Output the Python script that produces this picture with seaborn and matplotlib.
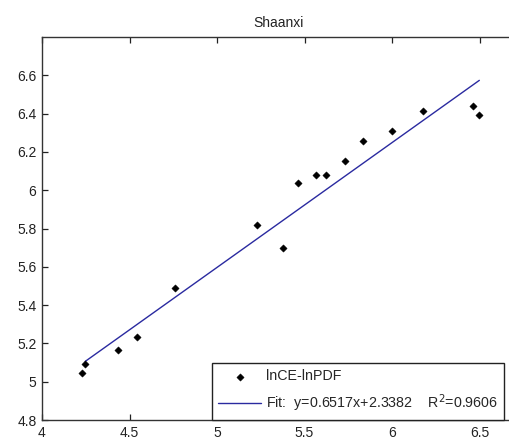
import numpy as np
import pandas as pd
import matplotlib
matplotlib.use("Agg")
import matplotlib.pyplot as plt
import seaborn as sns

# Data
ln_pdf = [4.227, 4.248, 4.434, 4.541, 4.758, 5.227, 5.379, 5.461, 5.568,
          5.625, 5.730, 5.836, 6.000, 6.179, 6.461, 6.499]
ln_ce = [5.044, 5.091, 5.163, 5.232, 5.491, 5.816, 5.698, 6.040, 6.080,
         6.080, 6.151, 6.258, 6.310, 6.412, 6.440, 6.393]
slope = 0.6517
intercept = 2.3382
r2 = 0.9606
title = "Shaanxi"
x_ticks = [4, 4.5, 5, 5.5, 6, 6.5]
x_tick_labels = ["4", "4.5", "5", "5.5", "6", "6.5"]
y_ticks = [4.8, 5.0, 5.2, 5.4, 5.6, 5.8, 6.0, 6.2, 6.4, 6.6]
y_tick_labels = ["4.8", "5", "5.2", "5.4", "5.6", "5.8", "6", "6.2", "6.4", "6.6"]

sns.set_style("white")
plt.rcParams["font.family"] = ["Liberation Sans", "DejaVu Sans"]

df = pd.DataFrame({"x": ln_pdf, "y": ln_ce})
fit_x = np.array([min(ln_pdf) + 0.02, max(ln_pdf)])
fit_df = pd.DataFrame({"x": fit_x, "y": slope * fit_x + intercept})

fig = plt.figure(figsize=(5.09, 4.42), dpi=100)
W, H = 509, 442
left, right, top, bottom = 42, 514.5, 37, 420
ax = fig.add_axes([left / W, 1 - bottom / H, (right - left) / W, (bottom - top) / H])

sns.scatterplot(data=df, x="x", y="y", ax=ax, marker="D", color="black",
                s=14, edgecolor="black", linewidth=0.3, label="lnCE-lnPDF", zorder=3)
sns.lineplot(data=fit_df, x="x", y="y", ax=ax, color="#2a2aa0", linewidth=1.0,
             label=f"Fit:  y={slope}x+{intercept}    R$^2$={r2}", zorder=2)

ax.set_xlim(4, 6.7)
ax.set_ylim(4.8, 6.8)
ax.set_xticks(x_ticks)
ax.set_xticklabels(x_tick_labels)
ax.set_yticks(y_ticks)
ax.set_yticklabels(y_tick_labels)
ax.set_xlabel("")
ax.set_ylabel("")
ax.set_title(title, fontsize=10, pad=7, color="#222222")
ax.tick_params(direction="in", length=4, width=0.9, bottom=True, left=True,
               top=True, right=True, labelsize=10, colors="#222222", pad=4)
for s in ax.spines.values():
    s.set_color("#333333")
    s.set_linewidth(1.0)

leg = ax.legend(loc="lower right", bbox_to_anchor=(0.978, 0.0), borderaxespad=0,
                frameon=True, fancybox=False, fontsize=10.3, handlelength=3.0,
                handletextpad=0.3, borderpad=0.45, labelspacing=0.6)
leg.get_frame().set_edgecolor("#222222")
leg.get_frame().set_linewidth(1.0)
leg.get_frame().set_alpha(1)

fig.savefig("out.png", dpi=100)
